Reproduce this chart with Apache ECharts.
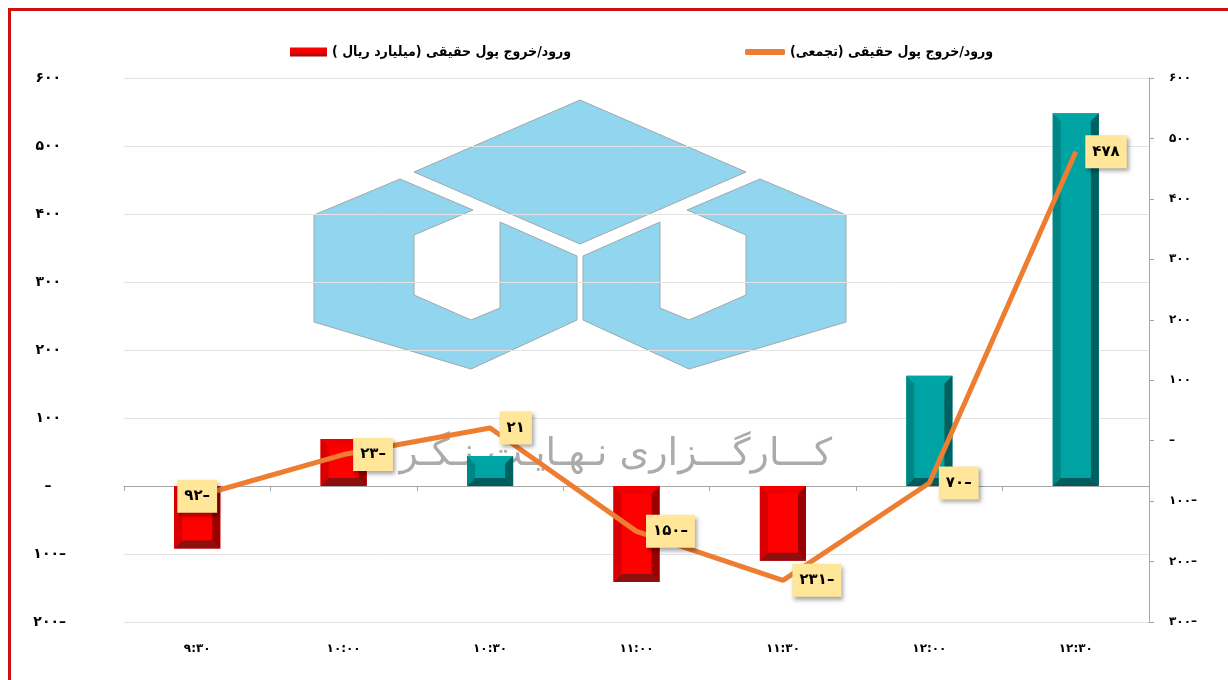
<!DOCTYPE html>
<html>
<head>
<meta charset="utf-8">
<script src="https://cdn.jsdelivr.net/npm/echarts@6/dist/echarts.min.js"></script>
<style>
  html, body { margin: 0; padding: 0; background: #fff; }
  #chart { width: 1228px; height: 680px; }
</style>
</head>
<body>
<div id="chart"></div>
<script>
// داده‌ها
var categories = ['۹:۳۰', '۱۰:۰۰', '۱۰:۳۰', '۱۱:۰۰', '۱۱:۳۰', '۱۲:۰۰', '۱۲:۳۰']
var flowValues = [-92, 69, 44, -141, -110, 162, 548]
var cumulativeValues = [-92, -23, 21, -150, -231, -70, 478]
var leftTicks = { min: -200, max: 600, step: 100 }
var rightTicks = { min: -300, max: 600, step: 100 }

var barName = 'ورود/خروج پول حقیقی (میلیارد ریال )\u200F'
var lineName = 'ورود/خروج پول حقیقی (تجمعی)\u200F'

// رنگ هر ستون (قرمز / فیروزه‌ای)
var barTone = ['red', 'red', 'teal', 'red', 'red', 'teal', 'teal']
var tones = {
  red: { face: '#FF0000', top: '#F20000', left: '#D80000', right: '#9A0000', bottom: '#8C1010' },
  teal: { face: '#00A3A3', top: '#00A6A6', left: '#008585', right: '#005F5F', bottom: '#005C5C' }
}

var FONT = "'DejaVu Sans', 'Noto Sans', sans-serif"
var NARROW = "'DejaVu Sans Condensed', 'DejaVu Sans', sans-serif"

function fa(n) {
  return String(n).replace(/[0-9]/g, function (d) { return '۰۱۲۳۴۵۶۷۸۹'[d] })
}
function axisFmt(v) {
  if (v === 0) return '–   '
  return v < 0 ? fa(-v) + '–' : fa(v) + ' '
}
function labelFmt(p) {
  var v = p.value
  return v < 0 ? fa(-v) + '–' : fa(v)
}

function bevelBar(params, api) {
  var idx = api.value(0)
  var base = api.coord([idx, 0])
  var end = api.coord([idx, api.value(1)])
  var w = api.size([1, 0])[0] * 0.315
  var x0 = base[0] - w / 2, x1 = base[0] + w / 2
  var y0 = Math.min(base[1], end[1]), y1 = Math.max(base[1], end[1])
  var b = Math.min(8, (y1 - y0) / 2)
  var c = tones[barTone[params.dataIndex]]
  function poly(pts, color) {
    return { type: 'polygon', shape: { points: pts }, style: { fill: color } }
  }
  return {
    type: 'group',
    children: [
      { type: 'rect', shape: { x: x0, y: y0, width: w, height: y1 - y0 }, style: { fill: c.face } },
      poly([[x0, y0], [x1, y0], [x1 - b, y0 + b], [x0 + b, y0 + b]], c.top),
      poly([[x0, y1], [x1, y1], [x1 - b, y1 - b], [x0 + b, y1 - b]], c.bottom),
      poly([[x0, y0], [x0 + b, y0 + b], [x0 + b, y1 - b], [x0, y1]], c.left),
      poly([[x1, y0], [x1 - b, y0 + b], [x1 - b, y1 - b], [x1, y1]], c.right)
    ]
  }
}

// لوگوی واترمارک
var logoFill = '#92D5EE'
var logoStroke = '#A0A8AC'
var leftPiece = [[400, 179], [473, 210], [414, 235], [414, 295], [471, 320], [500, 308], [500, 222],
  [577, 256], [577, 320], [471, 369], [314, 322], [314, 215]]
var rightPiece = leftPiece.map(function (p) { return [1160 - p[0], p[1]] })
var diamond = [[580, 100], [746, 172], [580, 244], [414, 172]]

function logoShape(pts) {
  return { type: 'polygon', z: -10, shape: { points: pts }, style: { fill: logoFill, stroke: logoStroke, lineWidth: 1 } }
}

var chart = echarts.init(document.getElementById('chart'))

chart.setOption({
  backgroundColor: '#fff',
  animation: false,
  textStyle: { fontFamily: FONT },
  graphic: [
    logoShape(diamond),
    logoShape(leftPiece),
    logoShape(rightPiece),
    {
      type: 'text', z: -10, right: 1228 - 832, top: 436,
      style: { text: 'کـــارگـــزاری نـهـایـت نـگـر', font: '38px ' + FONT, fill: '#ABABAB' }
    },
    {
      type: 'rect', z: 100,
      shape: { x: 9.5, y: 9.5, width: 1400, height: 900 },
      style: { fill: 'none', stroke: '#CC1111', lineWidth: 3 }
    }
  ],
  legend: [
    {
      left: 285, top: 40,
      itemWidth: 37, itemHeight: 9,
      textStyle: { fontFamily: NARROW, fontWeight: 'bold', fontSize: 14, color: '#000' },
      data: [{
        name: barName, icon: 'rect',
        itemStyle: {
          color: new echarts.graphic.LinearGradient(0, 0, 0, 1, [
            { offset: 0, color: '#FF0000' }, { offset: 0.6, color: '#EE0000' }, { offset: 1, color: '#8C1010' }
          ])
        }
      }]
    },
    {
      left: 740, top: 40,
      itemWidth: 40, itemHeight: 6,
      textStyle: { fontFamily: NARROW, fontWeight: 'bold', fontSize: 14, color: '#000' },
      data: [{ name: lineName, icon: 'roundRect', itemStyle: { color: '#ED7D31' } }]
    }
  ],
  grid: { left: 124, right: 79, top: 78, bottom: 58, containLabel: false, outerBoundsMode: 'none' },
  xAxis: {
    type: 'category',
    data: categories,
    axisLine: { onZero: true, onZeroAxisIndex: 0, lineStyle: { color: '#A6A6A6', width: 1 } },
    axisTick: { show: true, length: 5, lineStyle: { color: '#A6A6A6' } },
    axisLabel: { margin: 21, fontFamily: FONT, fontWeight: 'bold', fontSize: 12, color: '#000' },
    splitLine: { show: false }
  },
  yAxis: [
    {
      type: 'value',
      min: leftTicks.min, max: leftTicks.max, interval: leftTicks.step,
      axisLine: { show: false },
      axisTick: { show: false },
      axisLabel: { margin: 58, formatter: axisFmt, fontFamily: FONT, fontWeight: 'bold', fontSize: 14, color: '#000' },
      splitLine: { show: true, lineStyle: { color: '#E3E3E3', width: 1 } }
    },
    {
      type: 'value',
      min: rightTicks.min, max: rightTicks.max, interval: rightTicks.step,
      position: 'right',
      axisLine: { show: true, lineStyle: { color: '#A6A6A6' } },
      axisTick: { show: true, length: 5, lineStyle: { color: '#A6A6A6' } },
      axisLabel: { margin: 20, formatter: axisFmt, fontFamily: FONT, fontWeight: 'bold', fontSize: 12, color: '#000' },
      splitLine: { show: false }
    }
  ],
  series: [
    {
      name: barName,
      type: 'custom',
      renderItem: bevelBar,
      encode: { x: 0, y: 1 },
      itemStyle: { color: '#FF0000' },
      z: 2,
      data: flowValues.map(function (v, i) { return [i, v] })
    },
    {
      name: lineName,
      type: 'line',
      yAxisIndex: 1,
      data: cumulativeValues.map(function (v, i) {
        return i === 0 ? { value: v, label: { position: 'inside' } } : v
      }),
      symbol: 'circle',
      symbolSize: 1,
      z: 5,
      itemStyle: { color: '#ED7D31' },
      lineStyle: { color: '#ED7D31', width: 5 },
      label: {
        show: true,
        position: 'right',
        distance: 9,
        formatter: labelFmt,
        fontFamily: FONT,
        fontWeight: 'bold',
        fontSize: 15,
        color: '#000',
        backgroundColor: '#FFE699',
        padding: [9, 7],
        shadowColor: 'rgba(0,0,0,0.35)',
        shadowBlur: 4,
        shadowOffsetX: 2,
        shadowOffsetY: 3
      }
    }
  ]
})
</script>
</body>
</html>
